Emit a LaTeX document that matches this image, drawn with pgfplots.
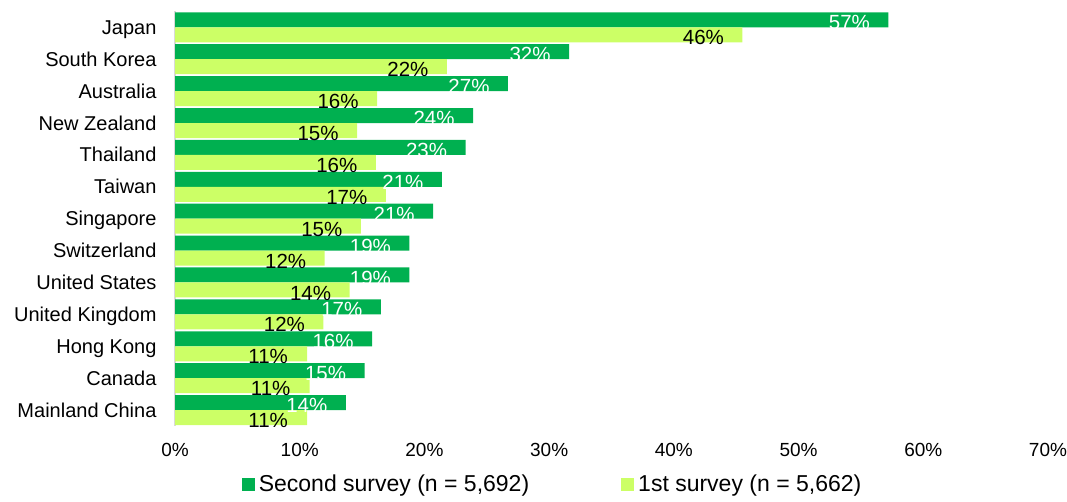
\documentclass[border=0pt]{standalone}
\usepackage{fontspec}
\setmainfont{Liberation Sans}
\usepackage{pgfplots}
\usepackage{pgfplotstable}
\pgfplotsset{compat=1.18}
\definecolor{darkg}{HTML}{00B050}
\definecolor{lightg}{HTML}{CCFF66}
\pgfplotstableread{
idx second slab first flab
12 57.2 57 45.5 46
11 31.6 32 21.8 22
10 26.7 27 16.2 16
9 23.9 24 14.6 15
8 23.3 23 16.1 16
7 21.4 21 16.9 17
6 20.7 21 14.9 15
5 18.8 19 12.0 12
4 18.8 19 14.0 14
3 16.5 17 11.9 12
2 15.8 16 10.6 11
1 15.2 15 10.8 11
0 13.7 14 10.6 11
}\data
\begin{document}
\begin{tikzpicture}[x=1pt,y=1pt]
\useasboundingbox (0,0) rectangle (1067,502);
\begin{axis}[
  at={(175pt,76pt)}, anchor=south west,
  scale only axis, width=873pt, height=414.6pt,
  xbar, bar width=15pt,
  xmin=0, xmax=70, ymin=-0.5, ymax=12.5,
  axis y line*=left,
  x axis line style={draw=none},
  y axis line style={draw=black!15, line width=2pt},
  major tick length=0pt,
  xtick={0,10,20,30,40,50,60,70},
  xticklabels={0\%,10\%,20\%,30\%,40\%,50\%,60\%,70\%},
  ytick={0,...,12},
  yticklabels={Mainland China,Canada,Hong Kong,United Kingdom,United States,Switzerland,Singapore,Taiwan,Thailand,New Zealand,Australia,South Korea,Japan},
  xticklabel style={font=\fontsize{19}{22}\selectfont, anchor=base, yshift=-30.5pt},
  yticklabel style={font=\fontsize{20}{24}\selectfont, anchor=base east, xshift=-15pt, yshift=-7pt},
  point meta=explicit symbolic,
  nodes near coords={\pgfplotspointmeta\%},
  every node near coord/.append style={anchor=center, xshift=-39pt, yshift=-3pt, font=\fontsize{20.5}{24}\selectfont},
  legend style={draw=none, at={(0.4325,-0.14)}, anchor=center, legend columns=2,
    /tikz/every even column/.append style={column sep=90pt},
    font=\fontsize{23}{27}\selectfont},
  legend cell align=left,
]
\addplot[fill=darkg, draw=none, bar shift=7.5pt,
  every node near coord/.append style={text=white},
  legend image code/.code={\fill[darkg] (0pt,-6.5pt) rectangle (13pt,6.5pt); \path (15pt,0pt);}]
  table[x=second, y=idx, meta=slab] {\data};
\addlegendentry{Second survey (n = 5,692)}
\addplot[fill=lightg, draw=none, bar shift=-7.5pt,
  every node near coord/.append style={text=black},
  legend image code/.code={\fill[lightg] (0pt,-6.5pt) rectangle (13pt,6.5pt); \path (15pt,0pt);}]
  table[x=first, y=idx, meta=flab] {\data};
\addlegendentry{1st survey (n = 5,662)}
\end{axis}
\end{tikzpicture}
\end{document}
